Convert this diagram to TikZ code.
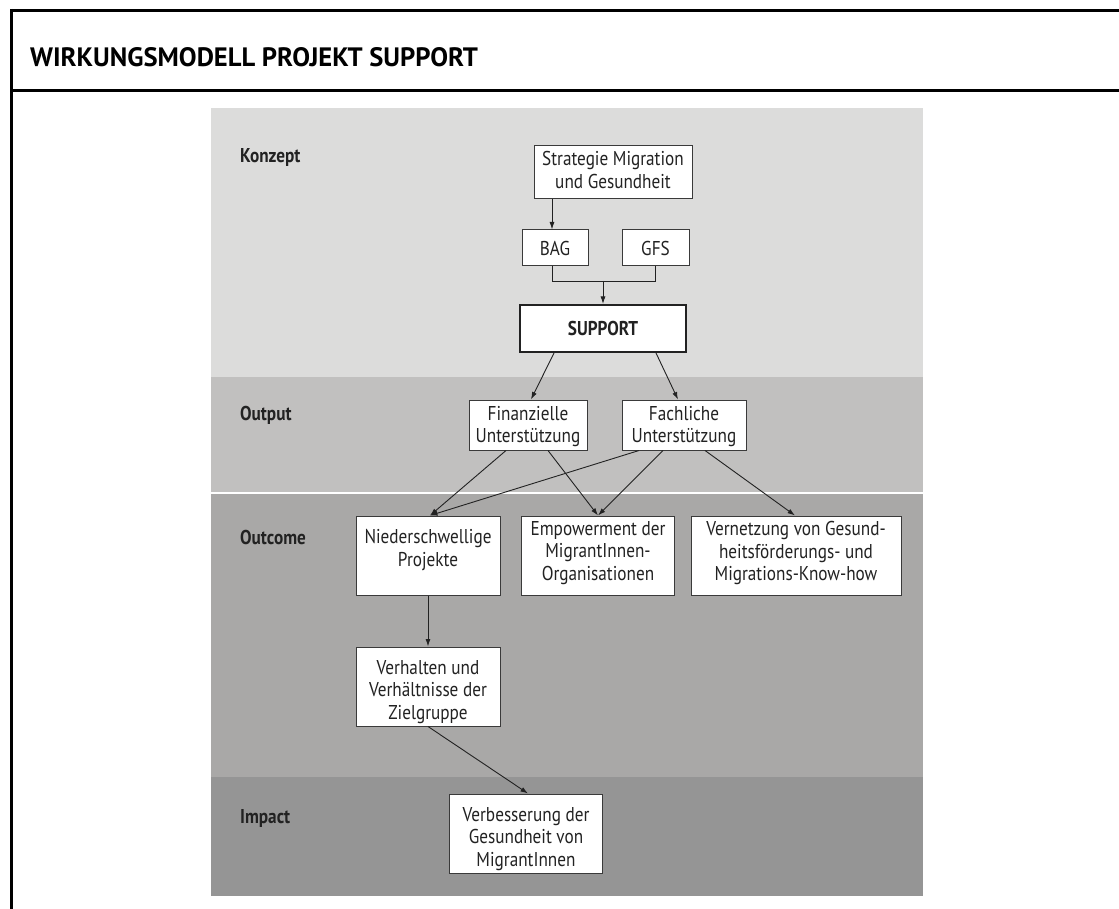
\documentclass[tikz,border=0pt]{standalone}
\usepackage{fontspec}
\setmainfont{PT Sans}[FakeStretch=0.86]
\newfontfamily\titlefont{PT Sans}
\usetikzlibrary{arrows.meta}
\definecolor{bandA}{HTML}{DCDCDB}
\definecolor{bandB}{HTML}{C1C0BF}
\definecolor{bandC}{HTML}{A9A8A7}
\definecolor{bandD}{HTML}{959595}
\definecolor{boxline}{HTML}{3A3A3A}
\definecolor{ink}{HTML}{222222}
\tikzset{
  frameline/.style={line width=3pt, black},
  box/.style={draw=boxline, line width=1pt, fill=white, inner sep=0pt},
  boldbox/.style={draw=ink, line width=2pt, fill=white, inner sep=0pt},
  txt/.style={align=center, inner sep=0pt, text=ink, font=\fontsize{20}{22.5}\selectfont},
  bandlabel/.style={anchor=base west, inner sep=0pt, text=ink, font=\fontsize{20}{22.5}\selectfont\bfseries},
  conn/.style={draw=ink, line width=0.9pt},
  arr/.style={conn, -{Latex[length=7.5pt,width=5pt]}}
}
\begin{document}
\begin{tikzpicture}[x=1pt,y=-1pt]
\useasboundingbox (0,0) rectangle (1119,909);
% frame
\draw[frameline] (11.5,9) -- (11.5,909);
\draw[frameline] (10,10.5) -- (1119,10.5);
\draw[frameline] (10,90.8) -- (1119,90.8);
\node[anchor=base west, inner sep=0pt, text=black, font=\titlefont\fontsize{26.6}{30}\selectfont\bfseries] (title) at (30,67) {WIRKUNGSMODELL PROJEKT SUPPORT};
% bands
\fill[bandA] (211,108) rectangle (923,377);
\fill[bandB] (211,377) rectangle (923,493);
\fill[bandC] (211,493) rectangle (923,777);
\fill[bandD] (211,777) rectangle (923,896);
\draw[white, line width=1.3pt] (211,493) -- (923,493);
\node[bandlabel] (lkonzept) at (240,163) {Konzept};
\node[bandlabel] (loutput) at (240,420) {Output};
\node[bandlabel] (loutcome) at (240,544) {Outcome};
\node[bandlabel] (limpact) at (240,823) {Impact};
% boxes
\node[box, minimum width=158pt, minimum height=53pt] (strat) at (613,172.5) {};
\node[txt] (strattext) at (613,170) {Strategie Migration\\und Gesundheit};
\node[box, minimum width=66pt, minimum height=36pt] (bag) at (555,248) {};
\node[txt] (bagtext) at (555,249) {BAG};
\node[box, minimum width=67pt, minimum height=36pt] (gfs) at (655.5,248) {};
\node[txt] (gfstext) at (655.5,249) {GFS};
\node[boldbox, minimum width=166pt, minimum height=47pt] (support) at (603,328.5) {};
\node[txt, font=\fontsize{20}{22.5}\selectfont\bfseries] (supporttext) at (603,328) {SUPPORT};
\node[box, minimum width=118pt, minimum height=50pt] (fin) at (528,425) {};
\node[txt] (fintext) at (528,426.5) {Finanzielle\\Unterstützung};
\node[box, minimum width=124pt, minimum height=50pt] (fach) at (684,425) {};
\node[txt] (fachtext) at (684,426.5) {Fachliche\\Unterstützung};
\node[box, minimum width=144pt, minimum height=79pt] (nied) at (428,555.5) {};
\node[txt] (niedtext) at (428,550) {Niederschwellige\\Projekte};
\node[box, minimum width=153pt, minimum height=79pt] (emp) at (598,555.5) {};
\node[txt] (emptext) at (598,553) {Empowerment der\\MigrantInnen-\\Organisationen};
\node[box, minimum width=210pt, minimum height=79pt] (vern) at (796,555.5) {};
\node[txt] (verntext) at (796,553) {Vernetzung von Gesund-\\heitsförderungs- und\\Migrations-Know-how};
\node[box, minimum width=144pt, minimum height=79pt] (verh) at (428,686.5) {};
\node[txt] (verhtext) at (428,692) {Verhalten und\\Verhältnisse der\\Zielgruppe};
\node[box, minimum width=153pt, minimum height=79pt] (verb) at (526,833.5) {};
\node[txt] (verbtext) at (526,839) {Verbesserung der\\Gesundheit von\\MigrantInnen};
% connectors
\draw[arr] ([xshift=-61pt]strat.south) -- ([xshift=-3pt]bag.north);
\coordinate (join) at (603,281);
\draw[conn] ([xshift=-3pt]bag.south) -- ([xshift=-3pt]bag.south |- join) -- (gfs.south |- join) -- (gfs.south);
\draw[arr] (join) -- (support.north);
\draw[arr] ([xshift=-49pt]support.south) -- ([xshift=3pt]fin.north);
\draw[arr] ([xshift=53pt]support.south) -- ([xshift=-6pt]fach.north);
\draw[arr] ([xshift=-22pt]fin.south) -- ([xshift=2pt]nied.north);
\draw[arr] ([xshift=20pt]fin.south) -- (emp.north);
\draw[arr] ([xshift=-45pt]fach.south) -- ([xshift=2pt]nied.north);
\draw[arr] ([xshift=-21pt]fach.south) -- (emp.north);
\draw[arr] ([xshift=21pt]fach.south) -- ([xshift=-1pt]vern.north);
\draw[arr] (nied.south) -- (verh.north);
\draw[arr] (verh.south) -- ([xshift=2pt]verb.north);
\end{tikzpicture}
\end{document}
